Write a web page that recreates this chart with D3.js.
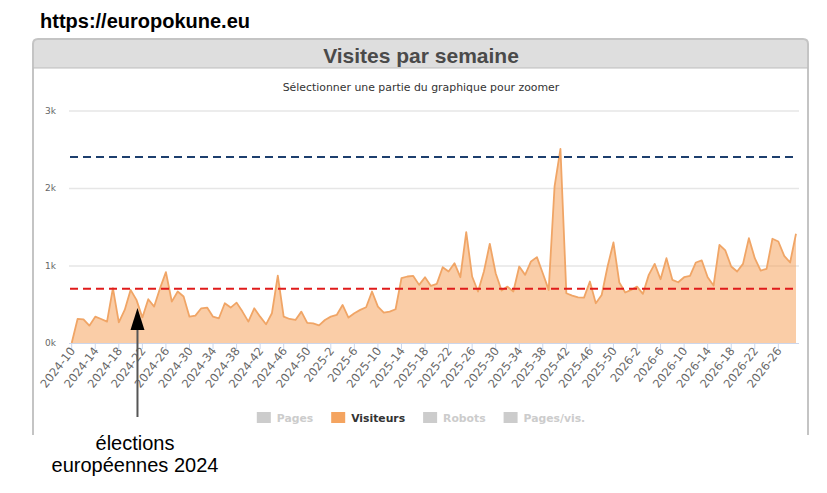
<!DOCTYPE html>
<html lang="fr">
<head>
<meta charset="UTF-8">
<script src="https://d3js.org/d3.v7.min.js"></script>
<title>Visites par semaine</title>
<style>
  body { margin: 0; background: #fff; }
  svg text { font-family: "DejaVu Sans", Verdana, sans-serif; }
</style>
</head>
<body>
<div id="chart"></div>
<script>
// semaines affichées : [année, première semaine, dernière semaine]
const weekRanges = [[2024, 10, 52], [2025, 1, 52], [2026, 1, 29]];

// visiteurs par semaine
const visitors = [
  0, 310, 306, 224, 340, 310, 276, 707, 267, 427,
  685, 556, 330, 565, 470, 707, 914, 534, 664, 600,
  340, 353, 448, 457, 340, 319, 513, 457, 521, 405,
  276, 448, 340, 241, 384, 870, 340, 310, 297, 405,
  260, 254, 228, 297, 340, 362, 491, 328, 384, 427,
  461, 664, 470, 392, 405, 435, 836, 858, 866, 750,
  849, 737, 763, 978, 922, 1030, 849, 1431, 858, 664,
  922, 1280, 900, 677, 728, 664, 987, 879, 1052, 1108,
  900, 685, 2021, 2504, 642, 612, 590, 586, 793, 513,
  620, 987, 1297, 780, 651, 685, 728, 634, 879, 1021,
  823, 1095, 815, 784, 849, 866, 1039, 1065, 849, 741,
  1267, 1194, 987, 922, 1021, 1353, 1095, 935, 957, 1345,
  1310, 1125, 1039, 1409
];

const yTicks = [0, 1000, 2000, 3000];
const refLines = [
  { value: 2400, color: "#1d3f6e" },
  { value: 700, color: "#e01b1b" }
];
const legendItems = [
  { name: "Pages", active: false },
  { name: "Visiteurs", active: true },
  { name: "Robots", active: false },
  { name: "Pages/vis.", active: false }
];
const annotation = { week: "2024-21", lines: ["élections", "européennes 2024"] };

const categories = [];
weekRanges.forEach(function (r) {
  for (let w = r[1]; w <= r[2]; w++) categories.push(r[0] + "-" + w);
});
const data = categories.map(function (c, i) { return { week: c, value: visitors[i] }; });

const W = 827, H = 493;
const svg = d3.select("#chart").append("svg")
  .attr("width", W).attr("height", H);

// site
svg.append("text")
  .attr("x", 40).attr("y", 28)
  .style("font-family", "'Liberation Sans', Arial, sans-serif")
  .style("font-weight", "bold").style("font-size", "20px")
  .attr("fill", "#000")
  .text("https://europokune.eu");

// cadre + en-tête
svg.append("path")
  .attr("d", "M33,68 V44 Q33,39 38,39 H803 Q808,39 808,44 V68 Z")
  .attr("fill", "#dedede");
svg.append("path")
  .attr("d", "M33,435 V44 Q33,39 38,39 H803 Q808,39 808,44 V435")
  .attr("fill", "none").attr("stroke", "#c4c4c4").attr("stroke-width", 2);
svg.append("line")
  .attr("x1", 33).attr("x2", 808).attr("y1", 68).attr("y2", 68)
  .attr("stroke", "#bdbdbd").attr("stroke-width", 1);

svg.append("text")
  .attr("x", 421).attr("y", 63)
  .attr("text-anchor", "middle")
  .style("font-family", "'Liberation Sans', Arial, sans-serif")
  .style("font-weight", "bold").style("font-size", "21px")
  .attr("fill", "#4a4a4a")
  .text("Visites par semaine");

svg.append("text")
  .attr("x", 421).attr("y", 91)
  .attr("text-anchor", "middle")
  .style("font-size", "10.9px")
  .attr("fill", "#333")
  .text("Sélectionner une partie du graphique pour zoomer");

// échelles
const x = d3.scalePoint().domain(categories).range([71.7, 796]);
const y = d3.scaleLinear().domain([0, 3000]).range([343, 110.5]);

// grille + axe Y
const gridX0 = 69, gridX1 = 799;
svg.append("g").selectAll("line")
  .data(yTicks.slice(1))
  .join("line")
  .attr("x1", gridX0).attr("x2", gridX1)
  .attr("y1", function (d) { return y(d) + 0.5; })
  .attr("y2", function (d) { return y(d) + 0.5; })
  .attr("stroke", "#e6e6e6").attr("stroke-width", 1.5);

svg.append("g").selectAll("text")
  .data(yTicks)
  .join("text")
  .attr("x", 56)
  .attr("y", function (d) { return y(d) + 3; })
  .attr("text-anchor", "end")
  .style("font-size", "9px")
  .attr("fill", "#666")
  .text(function (d) { return (d / 1000) + "k"; });

// aire
const area = d3.area()
  .x(function (d) { return x(d.week); })
  .y0(y(0))
  .y1(function (d) { return y(d.value); });
const line = d3.line()
  .x(function (d) { return x(d.week); })
  .y(function (d) { return y(d.value); });

svg.append("path")
  .datum(data)
  .attr("d", area)
  .attr("fill", "#f6a45e").attr("fill-opacity", 0.55);
svg.append("path")
  .datum(data)
  .attr("d", line)
  .attr("fill", "none")
  .attr("stroke", "#f0a566").attr("stroke-width", 1.8)
  .attr("stroke-linejoin", "round");

// lignes de référence
svg.append("g").selectAll("line")
  .data(refLines)
  .join("line")
  .attr("x1", 70).attr("x2", 796)
  .attr("y1", function (d) { return y(d.value); })
  .attr("y2", function (d) { return y(d.value); })
  .attr("stroke", function (d) { return d.color; })
  .attr("stroke-width", 2)
  .attr("stroke-dasharray", "8,5");

// axe X
svg.append("line")
  .attr("x1", gridX0).attr("x2", gridX1)
  .attr("y1", 343.5).attr("y2", 343.5)
  .attr("stroke", "#ccd6eb");

const tickCats = categories.filter(function (c, i) { return i % 4 === 0; });
const xTicks = svg.append("g");
xTicks.selectAll("line")
  .data(tickCats)
  .join("line")
  .attr("x1", function (d) { return x(d); })
  .attr("x2", function (d) { return x(d); })
  .attr("y1", 343).attr("y2", 349)
  .attr("stroke", "#ccd6eb");
xTicks.selectAll("text")
  .data(tickCats)
  .join("text")
  .attr("transform", function (d) { return "translate(" + (x(d) + 4) + ",351) rotate(-52)"; })
  .attr("text-anchor", "end")
  .style("font-size", "11.5px")
  .attr("fill", "#666")
  .text(function (d) { return d; });

// légende
const legend = svg.append("g");
let lx = 0;
legendItems.forEach(function (it) {
  const g = legend.append("g");
  g.append("rect")
    .attr("x", 0).attr("y", -10).attr("width", 14).attr("height", 11)
    .attr("fill", it.active ? "#f4a460" : "#cccccc");
  const t = g.append("text")
    .attr("x", 20).attr("y", 0)
    .style("font-size", "10.8px").style("font-weight", "bold")
    .attr("fill", it.active ? "#333" : "#cccccc")
    .text(it.name);
  const w = 20 + t.node().getComputedTextLength();
  g.attr("transform", "translate(" + lx + ",0)");
  lx += w + 18;
});
legend.attr("transform", "translate(" + (421 - (lx - 18) / 2) + ",422)");

// annotation
const ax = x(annotation.week) + 1;
svg.append("line")
  .attr("x1", ax).attr("x2", ax).attr("y1", 417).attr("y2", 328)
  .attr("stroke", "#555").attr("stroke-width", 2);
svg.append("path")
  .attr("d", "M" + ax + ",308 L" + (ax - 7) + ",330 L" + (ax + 7) + ",330 Z")
  .attr("fill", "#000");
svg.append("g").selectAll("text")
  .data(annotation.lines)
  .join("text")
  .attr("x", 135)
  .attr("y", function (d, i) { return 450 + i * 22; })
  .attr("text-anchor", "middle")
  .style("font-family", "'Liberation Sans', Arial, sans-serif")
  .style("font-size", "20px")
  .attr("fill", "#000")
  .text(function (d) { return d; });
</script>
</body>
</html>
